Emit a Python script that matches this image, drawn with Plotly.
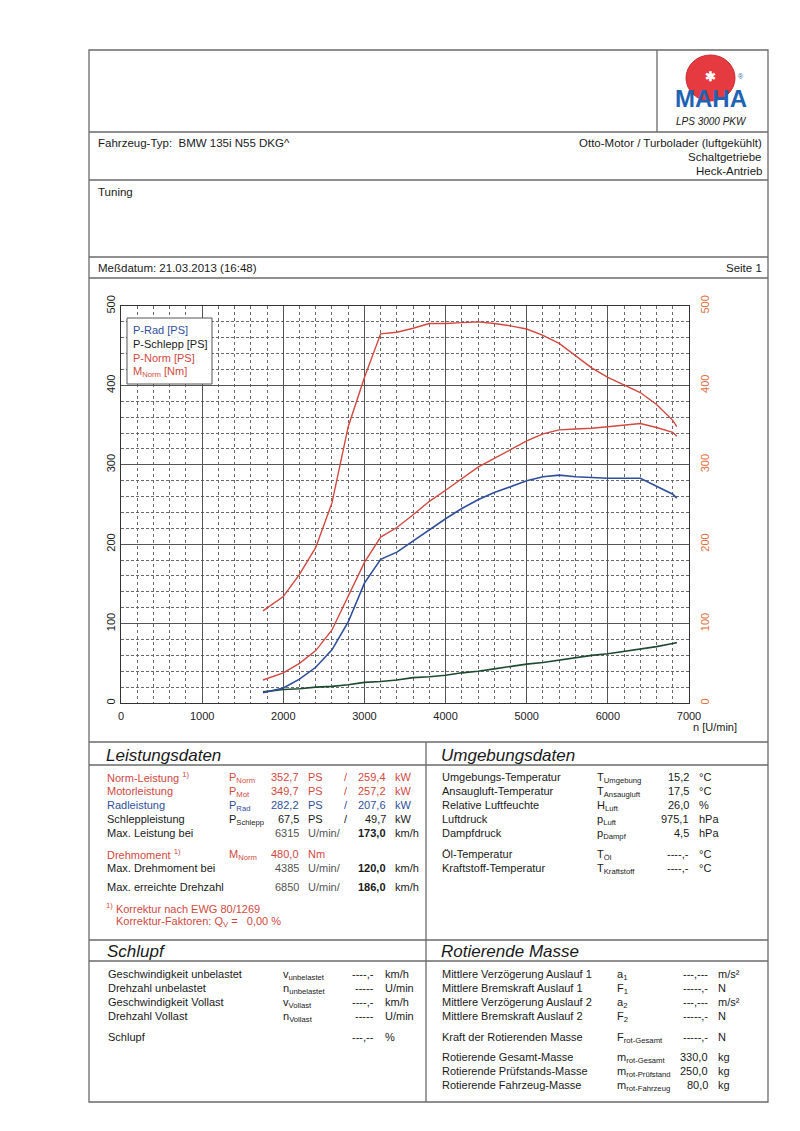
import plotly.graph_objects as go

# ---------------- data ----------------
rpm = [1750, 2000, 2200, 2400, 2600, 2800, 3000, 3200, 3400, 3600, 3800, 4000, 4200, 4400,
       4600, 4800, 5000, 5200, 5400, 5600, 5800, 6000, 6200, 6400, 6600, 6800, 6850]
p_rad = [13, 19, 30, 45, 67, 102, 151, 181, 190, 204, 219, 232, 245, 256,
         265, 273, 280, 285, 287, 285, 284, 283, 283, 283, 273, 263, 258]
p_schlepp = [14, 17, 18, 20, 21, 23, 26, 27, 29, 32, 33, 35, 38, 40,
             43, 46, 49, 51, 54, 57, 60, 62, 65, 68, 71, 75, 76]
p_norm = [29, 38, 50, 66, 92, 135, 177, 209, 221, 237, 254, 268, 283, 297,
          308, 319, 330, 339, 344, 345, 346, 348, 350, 352, 347, 341, 336]
m_norm = [116, 134, 162, 196, 252, 348, 410, 465, 467, 472, 478, 478, 479, 480,
          478, 475, 471, 463, 453, 437, 422, 410, 400, 391, 376, 356, 348]

x_ticks = [0, 1000, 2000, 3000, 4000, 5000, 6000, 7000]
y_ticks = [0, 100, 200, 300, 400, 500]

legend_items = ["P-Rad [PS]", "P-Schlepp [PS]", "P-Norm [PS]", "M<sub>Norm</sub> [Nm]"]

leist_labels = ["Norm-Leistung <sup>1)</sup>", "Motorleistung", "Radleistung", "Schleppleistung",
                "Max. Leistung bei", "Drehmoment <sup>1)</sup>", "Max. Drehmoment bei",
                "Max. erreichte Drehzahl"]
leist_symbols = ["P<sub>Norm</sub>", "P<sub>Mot</sub>", "P<sub>Rad</sub>", "P<sub>Schlepp</sub>",
                 "", "M<sub>Norm</sub>", "", ""]
leist_val1 = ["352,7", "349,7", "282,2", "67,5", "6315", "480,0", "4385", "6850"]
leist_unit1 = ["PS", "PS", "PS", "PS", "U/min/", "Nm", "U/min/", "U/min/"]
leist_slash = ["/", "/", "/", "/", "", "", "", ""]
leist_val2 = ["259,4", "257,2", "207,6", "49,7", "173,0", "", "120,0", "186,0"]
leist_unit2 = ["kW", "kW", "kW", "kW", "km/h", "", "km/h", "km/h"]

umg_labels = ["Umgebungs-Temperatur", "Ansaugluft-Temperatur", "Relative Luftfeuchte",
              "Luftdruck", "Dampfdruck", "Öl-Temperatur", "Kraftstoff-Temperatur"]
umg_symbols = ["T<sub>Umgebung</sub>", "T<sub>Ansaugluft</sub>", "H<sub>Luft</sub>",
               "p<sub>Luft</sub>", "p<sub>Dampf</sub>", "T<sub>Öl</sub>", "T<sub>Kraftstoff</sub>"]
umg_values = ["15,2", "17,5", "26,0", "975,1", "4,5", "----,-", "----,-"]
umg_units = ["°C", "°C", "%", "hPa", "hPa", "°C", "°C"]

schl_labels = ["Geschwindigkeit unbelastet", "Drehzahl unbelastet", "Geschwindigkeit Vollast",
               "Drehzahl Vollast", "Schlupf"]
schl_symbols = ["v<sub>unbelastet</sub>", "n<sub>unbelastet</sub>", "v<sub>Vollast</sub>",
                "n<sub>Vollast</sub>", ""]
schl_values = ["----,-", "-----", "----,-", "-----", "---,--"]
schl_units = ["km/h", "U/min", "km/h", "U/min", "%"]

rot_labels = ["Mittlere Verzögerung Auslauf 1", "Mittlere Bremskraft Auslauf 1",
              "Mittlere Verzögerung Auslauf 2", "Mittlere Bremskraft Auslauf 2",
              "Kraft der Rotierenden Masse", "Rotierende Gesamt-Masse",
              "Rotierende Prüfstands-Masse", "Rotierende Fahrzeug-Masse"]
rot_symbols = ["a<sub>1</sub>", "F<sub>1</sub>", "a<sub>2</sub>", "F<sub>2</sub>",
               "F<sub>rot-Gesamt</sub>", "m<sub>rot-Gesamt</sub>", "m<sub>rot-Prüfstand</sub>",
               "m<sub>rot-Fahrzeug</sub>"]
rot_values = ["---,---", "-----,-", "---,---", "-----,-", "-----,-", "330,0", "250,0", "80,0"]
rot_units = ["m/s²", "N", "m/s²", "N", "N", "kg", "kg", "kg"]

# ---------------- styling / geometry ----------------
FONT = "Liberation Sans, Arial, sans-serif"
BLUE = "#2f4f9c"
RED = "#d2493f"
ORANGE = "#e0703f"
GREEN = "#1f4a30"
BLACK = "#1a1a1a"
FRAME = "#6a6a6a"

OFF = 8                      # browser body margin
W, H = 800 - 2 * OFF, 1131 - 2 * OFF
PL, PR, PT, PB = 121, 689, 306, 703   # plot area in screen px


def px(sx):
    return (sx - PL) / (PR - PL)


def py(sy):
    return (PB - sy) / (PB - PT)


fig = go.Figure()
fig.add_trace(go.Scatter(x=rpm, y=p_schlepp, mode="lines", name="P-Schlepp [PS]",
                         line=dict(color=GREEN, width=1.6)))
fig.add_trace(go.Scatter(x=rpm, y=p_rad, mode="lines", name="P-Rad [PS]",
                         line=dict(color=BLUE, width=1.6)))
fig.add_trace(go.Scatter(x=rpm, y=p_norm, mode="lines", name="P-Norm [PS]",
                         line=dict(color=RED, width=1.4)))
fig.add_trace(go.Scatter(x=rpm, y=m_norm, mode="lines", name="M_Norm [Nm]",
                         line=dict(color=RED, width=1.4), yaxis="y2"))

shapes = []
ann = []


def hline(sy, x0=89, x1=768, color=FRAME, w=1.3):
    shapes.append(dict(type="line", xref="paper", yref="paper", x0=px(x0), x1=px(x1),
                       y0=py(sy), y1=py(sy), line=dict(color=color, width=w)))


def vline(sx, y0, y1, color=FRAME, w=1.3):
    shapes.append(dict(type="line", xref="paper", yref="paper", x0=px(sx), x1=px(sx),
                       y0=py(y0), y1=py(y1), line=dict(color=color, width=w)))


def text(sx, sy, t, size=11, color=BLACK, anchor="left"):
    ann.append(dict(xref="paper", yref="paper", x=px(sx), y=py(sy), text=t,
                    showarrow=False, xanchor=anchor, yanchor="middle",
                    font=dict(family=FONT, size=size, color=color)))


# page frame
shapes.append(dict(type="rect", xref="paper", yref="paper", x0=px(89), x1=px(768),
                   y0=py(50), y1=py(1102), line=dict(color=FRAME, width=1.3)))
vline(657, 50, 132)
for yy in [132, 180, 257, 278, 742, 765, 940, 961]:
    hline(yy)
vline(426, 742, 1102)

# logo
shapes.append(dict(type="circle", xref="paper", yref="paper", x0=px(686), x1=px(735),
                   y0=py(55), y1=py(101), fillcolor="#e53a3f", line=dict(color="#c92a30", width=1)))
text(710, 76, "<b>✱</b>", size=13, color="white", anchor="center")
text(711, 98, "<b>MAHA</b>", size=24, color="#1f63b4", anchor="center")
text(741, 76, "®", size=7, color="#1f63b4", anchor="center")
text(712, 121, "<i>LPS 3000 PKW</i>", size=10, anchor="center")

# header texts
HS = 11.5
text(96, 143, "Fahrzeug-Typ:  BMW 135i N55 DKG^", size=HS)
text(764, 143, "Otto-Motor / Turbolader (luftgekühlt)", size=HS, anchor="right")
text(764, 157, "Schaltgetriebe", size=HS, anchor="right")
text(764, 171, "Heck-Antrieb", size=HS, anchor="right")
text(96, 192, "Tuning", size=HS)
text(96, 268, "Meßdatum: 21.03.2013 (16:48)", size=HS)
text(764, 268, "Seite 1", size=HS, anchor="right")

# legend box
shapes.append(dict(type="rect", xref="paper", yref="paper", x0=px(127), x1=px(212),
                   y0=py(318), y1=py(384), fillcolor="white",
                   line=dict(color="#555", width=1), layer="above"))
for yy, t, c in zip([330, 344, 358, 372], legend_items, [BLUE, BLACK, RED, RED]):
    text(131, yy, t, size=11, color=c)

# axis title
text(715, 727, "n [U/min]", size=11, color="#222", anchor="center")

# Leistungsdaten
text(104, 755, "<i>Leistungsdaten</i>", size=17)
leist_y = [777, 791, 805, 819, 833, 854, 868, 887]
leist_col = [RED, RED, BLUE, BLACK, BLACK, RED, BLACK, BLACK]
for i, yy in enumerate(leist_y):
    c = leist_col[i]
    text(105, yy, leist_labels[i], color=c)
    if leist_symbols[i]:
        text(227, yy + 1, leist_symbols[i], color=c)
    is_rpm = leist_unit1[i] == "U/min/"
    vc = "#555" if is_rpm else c
    text(301, yy, leist_val1[i], color=vc, anchor="right")
    text(306, yy, leist_unit1[i], color=vc)
    if leist_slash[i]:
        text(346, yy, leist_slash[i], color=c, anchor="center")
    if leist_val2[i]:
        v2 = "<b>" + leist_val2[i] + "</b>" if is_rpm else leist_val2[i]
        text(388, yy, v2, color=c, anchor="right")
        text(393, yy, leist_unit2[i], color=c)
text(104, 908, "<sup>1)</sup> Korrektur nach EWG 80/1269", color=RED)
text(114, 922, "Korrektur-Faktoren: Q<sub>V</sub> =   0,00 %", color=RED)

# Umgebungsdaten
text(439, 755, "<i>Umgebungsdaten</i>", size=17)
umg_y = [777, 791, 805, 819, 833, 854, 868]
for i, yy in enumerate(umg_y):
    text(440, yy, umg_labels[i])
    text(595, yy + 1, umg_symbols[i])
    text(691, yy, umg_values[i], anchor="right")
    text(697, yy, umg_units[i])

# Schlupf
text(105, 951, "<i>Schlupf</i>", size=17)
schl_y = [974, 988, 1002, 1016, 1037]
for i, yy in enumerate(schl_y):
    text(106, yy, schl_labels[i])
    if schl_symbols[i]:
        text(281, yy + 1, schl_symbols[i])
    text(376, yy, schl_values[i], anchor="right")
    text(383, yy, schl_units[i])

# Rotierende Masse
text(439, 951, "<i>Rotierende Masse</i>", size=17)
rot_y = [974, 988, 1002, 1016, 1037, 1057, 1071, 1085]
for i, yy in enumerate(rot_y):
    text(440, yy, rot_labels[i])
    text(615, yy + 1, rot_symbols[i])
    text(710, yy, rot_values[i], anchor="right")
    text(716, yy, rot_units[i])

fig.update_layout(
    width=W, height=H, autosize=False,
    margin=dict(l=PL - OFF, r=W - (PR - OFF), t=PT - OFF, b=H - (PB - OFF), pad=0),
    paper_bgcolor="white", plot_bgcolor="white",
    showlegend=False,
    font=dict(family=FONT, size=11, color=BLACK),
    xaxis=dict(range=[0, 7000], tickvals=x_ticks, ticktext=[str(v) for v in x_ticks],
               showgrid=True, gridcolor="#555", gridwidth=1,
               minor=dict(dtick=200, tick0=0, showgrid=True, gridcolor="#6a6a6a",
                          griddash="dot", gridwidth=1),
               showline=True, linecolor="#333", linewidth=1.3, mirror=True,
               zeroline=False, ticks="", tickfont=dict(size=11, color="#222"),
               ticklabelstandoff=3, automargin=False, fixedrange=True),
    yaxis=dict(range=[0, 500], tickvals=y_ticks, tickangle=-90,
               showgrid=True, gridcolor="#555", gridwidth=1,
               minor=dict(dtick=20, tick0=0, showgrid=True, gridcolor="#6a6a6a",
                          griddash="3px,2px", gridwidth=1),
               showline=True, linecolor="#333", linewidth=1.3, mirror=True,
               zeroline=False, ticks="", tickfont=dict(size=11, color="#222"),
               automargin=False, fixedrange=True),
    yaxis2=dict(range=[0, 500], tickvals=y_ticks, tickangle=-90, overlaying="y",
                side="right", showgrid=False, zeroline=False, ticks="",
                tickfont=dict(size=11, color=ORANGE), ticklabelstandoff=8,
                automargin=False, fixedrange=True),
    shapes=shapes, annotations=ann,
)

fig.write_html("out.html")
